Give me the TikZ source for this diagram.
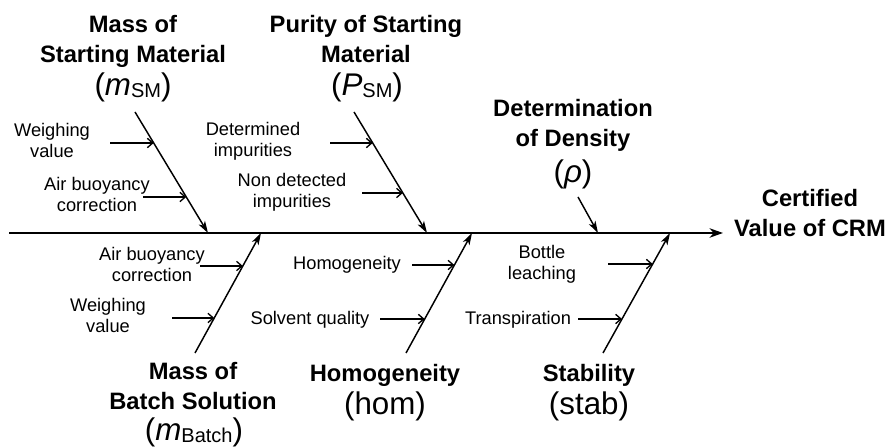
\documentclass[tikz,border=0pt]{standalone}
\usepackage{fontspec}
\setmainfont{Liberation Sans}
\usetikzlibrary{arrows.meta,calc}

\begin{document}
\begin{tikzpicture}[x=0.75pt,y=0.75pt,yscale=-1,xscale=1,
  spine/.style={line width=1.5pt,-{Stealth[length=10pt,width=7pt,inset=3pt]}},
  bone/.style={line width=1.1pt,-{Stealth[length=9pt,width=5.5pt,inset=2.5pt]}},
  cause/.style={line width=1pt,-{Straight Barb[length=4pt,width=7pt]}},
  lbl/.style={inner sep=0pt,align=center,anchor=base,font=\fontsize{13.7}{15.75}\selectfont},
  ttl/.style={inner sep=0pt,align=center,anchor=base,font=\bfseries\fontsize{17.8}{22.5}\selectfont},
  sym/.style={inner sep=0pt,anchor=base,font=\fontsize{23.5}{28}\selectfont}]
\useasboundingbox (0,0) rectangle (890,448);

%Straight Lines: spine
\coordinate (sp0) at (9,233);
\coordinate (sp1) at (723,233);
\draw[spine] (sp0) -- (sp1);

%Straight Lines: bones above
\coordinate (b1s) at (135,112); \coordinate (b1e) at (208,233);
\coordinate (b2s) at (354,112); \coordinate (b2e) at (427,233);
\coordinate (b3s) at (578,197); \coordinate (b3e) at (598,233);
\draw[bone] (b1s) -- (b1e);
\draw[bone] (b2s) -- (b2e);
\draw[bone] (b3s) -- (b3e);

%Straight Lines: bones below
\coordinate (b4s) at (195,353); \coordinate (b4e) at (261,233);
\coordinate (b5s) at (406,353); \coordinate (b5e) at (472,233);
\coordinate (b6s) at (603,353); \coordinate (b6e) at (670,233);
\draw[bone] (b4s) -- (b4e);
\draw[bone] (b5s) -- (b5e);
\draw[bone] (b6s) -- (b6e);

%Straight Lines: causes
\coordinate (c1) at ($(b1s)!0.256!(b1e)$); \coordinate (c1t) at (110,143);
\coordinate (c2) at ($(b1s)!0.702!(b1e)$); \coordinate (c2t) at (143,197);
\coordinate (c3) at ($(b2s)!0.256!(b2e)$); \coordinate (c3t) at (330,143);
\coordinate (c4) at ($(b2s)!0.669!(b2e)$); \coordinate (c4t) at (362,193);
\coordinate (c5) at ($(b4s)!0.725!(b4e)$); \coordinate (c5t) at (200,266);
\coordinate (c6) at ($(b4s)!0.292!(b4e)$); \coordinate (c6t) at (172,318);
\coordinate (c7) at ($(b5s)!0.733!(b5e)$); \coordinate (c7t) at (412,265);
\coordinate (c8) at ($(b5s)!0.283!(b5e)$); \coordinate (c8t) at (380,319);
\coordinate (c9) at ($(b6s)!0.742!(b6e)$); \coordinate (c9t) at (608,264);
\coordinate (c10) at ($(b6s)!0.283!(b6e)$); \coordinate (c10t) at (578,319);
\foreach \i in {1,...,10}
  \draw[cause] (c\i t) -- (c\i t -| c\i);

% Text Node
\node[ttl] (msm) at (133,63) {Mass of\\Starting Material};
\node[sym] (msmsym) at (133,96) {(\textit{m}\raisebox{-1.5pt}{\fontsize{15}{15}\selectfont SM})};
% Text Node
\node[ttl] (psm) at (366,63) {Purity of Starting\\Material};
\node[sym] (psmsym) at (367,96) {(\textit{P}\raisebox{-1.5pt}{\fontsize{15}{15}\selectfont SM})};
% Text Node
\node[ttl] (dens) at (573,147) {Determination\\of Density};
\node[sym] (denssym) at (573,183) {(\textit{ρ})};
% Text Node
\node[ttl] (crm) at (810,237) {Certified\\Value of CRM};
% Text Node
\node[ttl] (mbatch) at (193,410) {Mass of\\Batch Solution};
\node[sym] (mbatchsym) at (194,441) {(\textit{m}\raisebox{-1.5pt}{\fontsize{15}{15}\selectfont Batch})};
% Text Node
\node[ttl] (hom) at (385,382) {Homogeneity};
\node[sym] (homsym) at (385,415) {(hom)};
% Text Node
\node[ttl] (stab) at (589,382) {Stability};
\node[sym] (stabsym) at (589,415) {(stab)};

% Text Node
\node[lbl] (wv1) at (52,158) {Weighing\\value};
\node[lbl] (abc1) at (97,212) {Air buoyancy\\correction};
\node[lbl] (detimp) at (253,157) {Determined\\impurities};
\node[lbl] (ndimp) at (292,208) {Non detected\\impurities};
\node[lbl] (abc2) at (152,282) {Air buoyancy\\correction};
\node[lbl] (wv2) at (108,333) {Weighing\\value};
\node[lbl] (homlbl) at (347,270) {Homogeneity};
\node[lbl] (solv) at (310,325) {Solvent quality};
\node[lbl] (leach) at (542,280) {Bottle\\leaching};
\node[lbl] (transp) at (518,325) {Transpiration};

\end{tikzpicture}
\end{document}
